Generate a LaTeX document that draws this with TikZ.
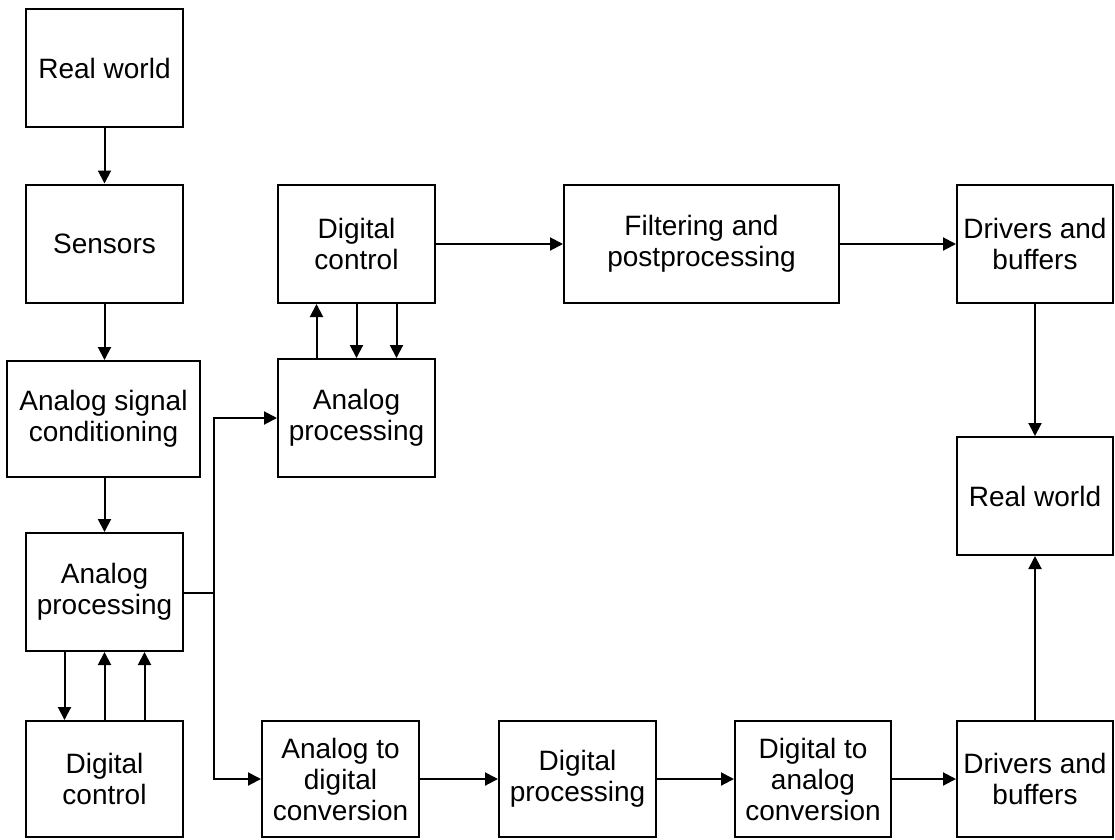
\documentclass[tikz,border=0pt]{standalone}
\usepackage{fontspec}
\setmainfont{Liberation Sans}
\usetikzlibrary{arrows.meta}
\begin{document}
\begin{tikzpicture}[x=1pt,y=-1pt,
  blk/.style={draw, line width=2pt, inner sep=0pt, align=center,
    font=\fontsize{28}{31}\selectfont, minimum width=157pt, minimum height=118pt},
  conn/.style={line width=2pt},
  thinconn/.style={line width=1.3pt},
  arr/.style={conn, -{Triangle[length=13pt,width=13pt]}}]
\useasboundingbox[fill=white] (0,0) rectangle (1115,839);
% left column
\node[blk] (rw1) at (104.5,68) {Real world};
\node[blk] (sen) at (104.5,243.5) {Sensors};
\node[blk, minimum width=193pt, minimum height=116pt] (asc) at (103.5,419) {Analog signal\\conditioning};
\node[blk] (ap1) at (104.5,592) {Analog\\processing};
\node[blk, minimum height=116pt] (dc1) at (104.5,779) {Digital\\control};
% middle top
\node[blk] (dc2) at (356.5,244) {Digital\\control};
\node[blk] (ap2) at (356.5,418) {Analog\\processing};
\node[blk, minimum width=275pt, minimum height=118pt] (flt) at (701.5,244) {Filtering and\\postprocessing};
\node[blk, minimum width=156pt] (db1) at (1035,244) {Drivers and\\buffers};
\node[blk, minimum width=156pt] (rw2) at (1035,496) {Real world};
% bottom row
\node[blk, minimum height=116pt] (adc) at (340.5,779) {Analog to\\digital\\conversion};
\node[blk, minimum height=116pt] (dp) at (577.5,779) {Digital\\processing};
\node[blk, minimum width=156pt, minimum height=116pt] (dac) at (813,779) {Digital to\\analog\\conversion};
\node[blk, minimum width=156pt, minimum height=116pt] (db2) at (1035,779) {Drivers and\\buffers};
% connectors
\draw[arr] (rw1.south -| sen) -- (sen);
\draw[arr] (sen) -- (asc.north -| sen);
\draw[arr] (asc.south -| ap1) -- (ap1);
\draw[arr] ([xshift=-40pt]ap1.south) -- ([xshift=-40pt]dc1.north);
\draw[arr] (dc1.north) -- (ap1.south);
\draw[arr] ([xshift=40pt]dc1.north) -- ([xshift=40pt]ap1.south);
\coordinate (j) at (214,593);
\draw[thinconn] (ap1.east |- j) -- (j);
\draw[arr] (j) |- (ap2.west);
\draw[arr] (j) |- (adc.west);
\draw[arr] ([xshift=-40pt]ap2.north) -- ([xshift=-40pt]dc2.south);
\draw[arr] (dc2.south) -- (ap2.north);
\draw[arr] ([xshift=40pt]dc2.south) -- ([xshift=40pt]ap2.north);
\draw[arr] (dc2.east) -- (flt.west |- dc2.east);
\draw[arr] (flt.east |- db1.west) -- (db1.west);
\draw[arr] (db1) -- (rw2);
\draw[arr] (adc) -- (dp);
\draw[arr] (dp) -- (dac);
\draw[arr] (dac) -- (db2);
\draw[arr] (db2) -- (rw2);
\end{tikzpicture}
\end{document}
